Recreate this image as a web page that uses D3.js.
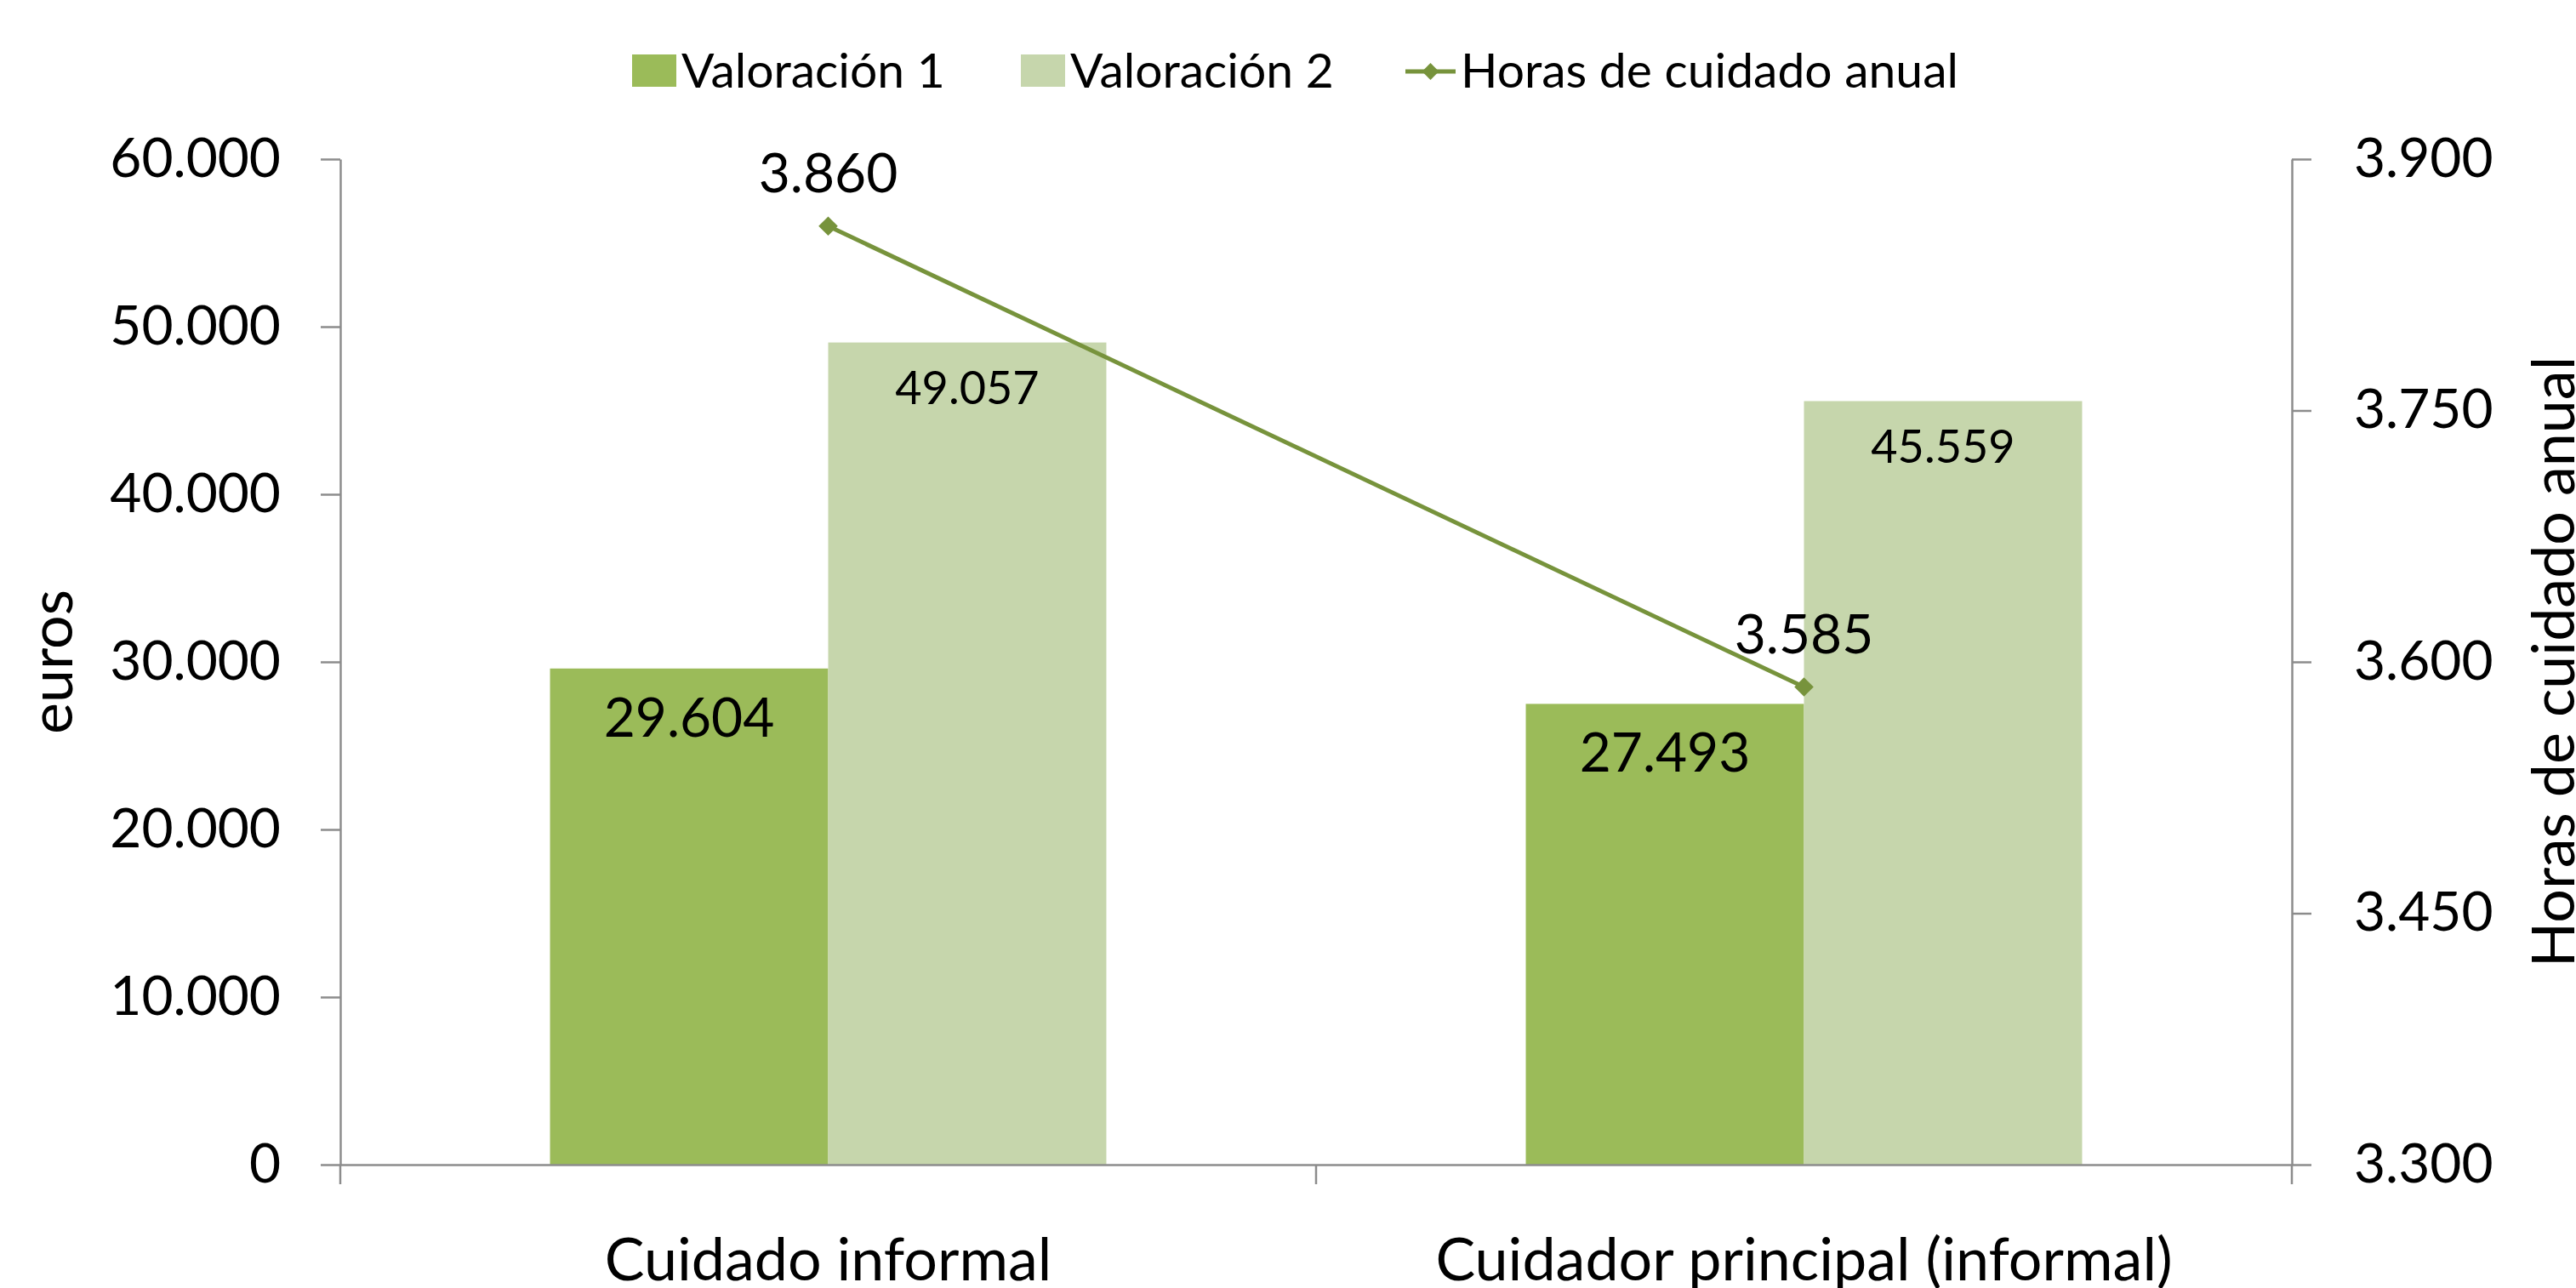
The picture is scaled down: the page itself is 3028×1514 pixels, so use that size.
<!DOCTYPE html>
<html>
<head>
<meta charset="utf-8">
<script src="https://cdn.jsdelivr.net/npm/d3@7"></script>
<style>
  body { margin: 0; background: #fff; }
  text { font-family: Lato, "Open Sans", sans-serif; fill: #000; }
</style>
</head>
<body>
<svg id="chart"></svg>
<script>
// data
var categories = ["Cuidado informal", "Cuidador principal (informal)"];
var seriesNames = ["Valoración 1", "Valoración 2"];
var valoracion1 = [29604, 27493];
var valoracion2 = [49057, 45559];
var horas = [3860, 3585];
var leftTicks = [0, 10000, 20000, 30000, 40000, 50000, 60000];
var rightTicks = [3300, 3450, 3600, 3750, 3900];

var width = 3028,
	height = 1514;

var c1 = "#9bbb59", c2 = "#c6d6ac", cLine = "#77933c", axisGrey = "#8c8c8c";

// spanish number format: 29.604
var es = d3.formatLocale({decimal: ",", thousands: ".", grouping: [3], currency: ["", " €"]});
var fmt = es.format(",d");

var svg = d3.select("#chart")
	.attr("width", width)
	.attr("height", height);

//plot area (not "top": that one is taken by window)
var plotL = 400, plotR = 2694, plotT = 187, plotB = 1369;

var x0 = d3.scaleBand().domain(categories).range([plotL, plotR]);
var x1 = d3.scaleBand().domain(seriesNames).range([0, x0.bandwidth()])
	.paddingInner(0).paddingOuter(0.754);
var yL = d3.scaleLinear().domain([0, 60000]).range([plotB, plotT]);
var yR = d3.scaleLinear().domain([3300, 3900]).range([plotB, plotT]);

// bars
var rows = categories.map(function(c, i) {
	return [
		{cat: c, s: seriesNames[0], v: valoracion1[i], color: c1, fs: 64},
		{cat: c, s: seriesNames[1], v: valoracion2[i], color: c2, fs: 54}
	];
});
var flat = d3.merge(rows);

svg.append("g").selectAll("rect")
	.data(flat)
	.enter().append("rect")
	.attr("x", function(d) { return x0(d.cat) + x1(d.s); })
	.attr("y", function(d) { return yL(d.v); })
	.attr("width", x1.bandwidth())
	.attr("height", function(d) { return yL(0) - yL(d.v); })
	.attr("fill", function(d) { return d.color; });

// axes
var gL = svg.append("g").attr("transform", "translate(" + plotL + ",0)")
	.call(d3.axisLeft(yL).tickValues(leftTicks).tickFormat(fmt).tickSize(23).tickSizeOuter(0).tickPadding(47));
var gR = svg.append("g").attr("transform", "translate(" + plotR + ",0)")
	.call(d3.axisRight(yR).tickValues(rightTicks).tickFormat(fmt).tickSize(23).tickSizeOuter(0).tickPadding(50));
var gB = svg.append("g").attr("transform", "translate(0," + plotB + ")")
	.call(d3.axisBottom(x0).tickSize(0).tickSizeOuter(0).tickPadding(0));

// excel puts category ticks on the band edges
var edges = categories.map(function(c) { return x0(c); }).concat([x0.range()[1]]);
gB.selectAll(".edge").data(edges).enter().append("line")
	.attr("class", "edge")
	.attr("x1", function(d) { return d; })
	.attr("x2", function(d) { return d; })
	.attr("y1", 0).attr("y2", 23);

[gL, gR, gB].forEach(function(g) {
	g.selectAll("path, line").attr("stroke", axisGrey).attr("stroke-width", 2.5);
	g.selectAll("text").attr("font-size", 64).attr("font-family", "Lato").attr("fill", "#000");
});
gB.selectAll("text").attr("dy", null).attr("y", 136).attr("font-size", 70);

// axis titles
svg.append("text")
	.attr("transform", "translate(85," + (plotT + plotB) / 2 + ") rotate(-90)")
	.attr("text-anchor", "middle")
	.attr("font-size", 70)
	.text("euros");
svg.append("text")
	.attr("transform", "translate(3026," + (plotT + plotB) / 2 + ") rotate(-90)")
	.attr("text-anchor", "middle")
	.attr("font-size", 70)
	.text("Horas de cuidado anual");

// bar labels, inside end
svg.append("g").selectAll("text")
	.data(flat)
	.enter().append("text")
	.attr("x", function(d) { return x0(d.cat) + x1(d.s) + x1.bandwidth() / 2; })
	.attr("y", function(d) { return yL(d.v) + 34 + 0.72 * d.fs; })
	.attr("text-anchor", "middle")
	.attr("font-size", function(d) { return d.fs; })
	.text(function(d) { return fmt(d.v); });

// line series on secondary axis
var px = function(d, i) { return x0(categories[i]) + x0.bandwidth() / 2; };
var line = d3.line().x(px).y(function(d) { return yR(d); });

svg.append("path")
	.datum(horas)
	.attr("d", line)
	.attr("fill", "none")
	.attr("stroke", cLine)
	.attr("stroke-width", 5);

svg.append("g").selectAll("rect")
	.data(horas)
	.enter().append("rect")
	.attr("x", -8).attr("y", -8).attr("width", 16).attr("height", 16)
	.attr("transform", function(d, i) { return "translate(" + px(d, i) + "," + yR(d) + ") rotate(45)"; })
	.attr("fill", cLine);

svg.append("g").selectAll("text")
	.data(horas)
	.enter().append("text")
	.attr("x", px)
	.attr("y", function(d) { return yR(d) - 40; })
	.attr("text-anchor", "middle")
	.attr("font-size", 64)
	.text(function(d) { return fmt(d); });

// legend
var legend = svg.append("g");
var legItems = [
	{name: seriesNames[0], type: "bar", color: c1, x: 743},
	{name: seriesNames[1], type: "bar", color: c2, x: 1200},
	{name: "Horas de cuidado anual", type: "line", color: cLine, x: 1652}
];
legItems.forEach(function(it) {
	var g = legend.append("g").attr("transform", "translate(" + it.x + ",0)");
	if (it.type == "bar") {
		g.append("rect").attr("x", 0).attr("y", 64).attr("width", 52).attr("height", 38).attr("fill", it.color);
	}
	else {
		g.append("line").attr("x1", 0).attr("x2", 59).attr("y1", 84).attr("y2", 84)
			.attr("stroke", it.color).attr("stroke-width", 5);
		g.append("rect").attr("x", -7).attr("y", -7).attr("width", 14).attr("height", 14)
			.attr("transform", "translate(29.5,84) rotate(45)").attr("fill", it.color);
	}
	g.append("text").attr("x", it.type == "bar" ? 58 : 65).attr("y", 103)
		.attr("font-size", 57)
		.text(it.name);
});
</script>
</body>
</html>
